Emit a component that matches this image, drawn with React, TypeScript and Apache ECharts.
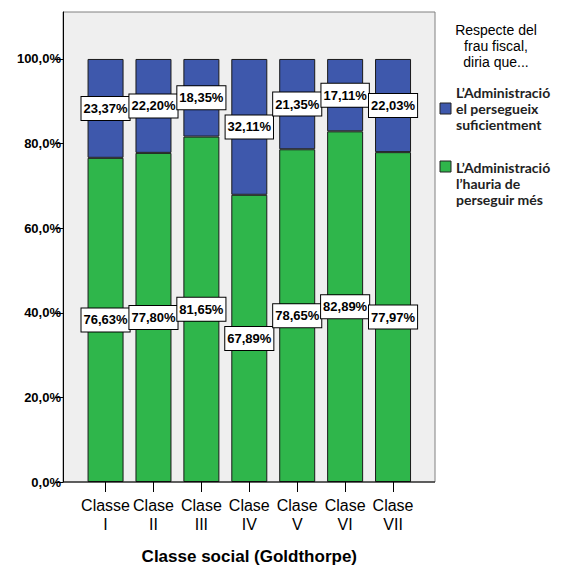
import React, { useEffect, useRef } from "react";
import * as echarts from "echarts";

const categories = ["Classe\nI", "Clase\nII", "Clase\nIII", "Clase\nIV", "Clase\nV", "Clase\nVI", "Clase\nVII"];
const seriesNames = ["L’Administració\nel persegueix\nsuficientment", "L’Administració\nl’hauria de\nperseguir més"];
const blueValues = [23.37, 22.2, 18.35, 32.11, 21.35, 17.11, 22.03];
const greenValues = [76.63, 77.8, 81.65, 67.89, 78.65, 82.89, 77.97];
const yTicks = [0, 20, 40, 60, 80, 100];
const legendTitle = "Respecte del\nfrau fiscal,\ndiria que...";
const xAxisTitle = "Classe social (Goldthorpe)";

const BLUE = "#3e58ac";
const GREEN = "#2fb64b";
const SANS = "'Liberation Sans', Arial, sans-serif";
const LEGENDFONT = "Lato, 'Open Sans', sans-serif";

const fmtPct = (v: number) => v.toFixed(2).replace(".", ",") + "%";

export default function App() {
  const ref = useRef<HTMLDivElement>(null);
  useEffect(() => {
    if (!ref.current) return;
    const chart = echarts.init(ref.current, null, { renderer: "svg" });
    const label = {
      show: true,
      position: "inside",
      formatter: (p: any) => fmtPct(p.value),
      color: "#000",
      fontFamily: SANS,
      fontWeight: "bold",
      fontSize: 13,
      lineHeight: 15,
      backgroundColor: "#fff",
      borderColor: "#000",
      borderWidth: 1,
      padding: [5, 2, 3, 2],
    };
    chart.setOption({
      animation: false,
      grid: { left: 81.6, right: 149, top: 12, bottom: 88, containLabel: false },
      graphic: [
        {
          type: "rect",
          z: -10,
          silent: true,
          shape: { x: 63, y: 12, width: 372, height: 470 },
          style: { fill: "#efefef", stroke: "#808080", lineWidth: 1 },
        },
        {
          type: "line",
          z: 10,
          silent: true,
          shape: { x1: 63, y1: 482, x2: 435, y2: 482 },
          style: { stroke: "#000", lineWidth: 1 },
        },
        {
          type: "text",
          x: 496,
          y: 22,
          style: {
            text: legendTitle,
            fill: "#000",
            font: `14px ${SANS}`,
            textAlign: "center",
            lineHeight: 16,
          },
        },
        {
          type: "rect",
          shape: { x: 440, y: 103, width: 11, height: 11 },
          style: { fill: BLUE, stroke: "#222", lineWidth: 1 },
        },
        {
          type: "text",
          x: 456,
          y: 84,
          style: {
            text: seriesNames[0],
            fill: "#222",
            font: `bold 14px ${LEGENDFONT}`,
            lineHeight: 16,
          },
        },
        {
          type: "rect",
          shape: { x: 440, y: 161, width: 11, height: 11 },
          style: { fill: GREEN, stroke: "#222", lineWidth: 1 },
        },
        {
          type: "text",
          x: 456,
          y: 159,
          style: {
            text: seriesNames[1],
            fill: "#222",
            font: `bold 14px ${LEGENDFONT}`,
            lineHeight: 16,
          },
        },
      ],
      xAxis: {
        type: "category",
        data: categories,
        name: xAxisTitle,
        nameLocation: "middle",
        nameGap: 66,
        nameTextStyle: { fontFamily: SANS, fontWeight: "bold", fontSize: 17, color: "#000" },
        axisLine: { show: false },
        axisTick: { show: true, alignWithLabel: true, length: 10, lineStyle: { color: "#000" } },
        axisLabel: {
          interval: 0,
          margin: 14,
          fontFamily: SANS,
          fontSize: 16,
          lineHeight: 19,
          color: "#000",
        },
      },
      yAxis: {
        type: "value",
        min: 0,
        max: 111.1,
        offset: 18.6,
        axisLine: { show: true, lineStyle: { color: "#000" } },
        axisTick: { show: true, length: 8, customValues: yTicks, lineStyle: { color: "#000" } },
        axisLabel: {
          customValues: yTicks,
          margin: 2,
          fontFamily: SANS,
          fontSize: 13,
          fontWeight: "bold",
          color: "#000",
          formatter: (v: number) => v.toFixed(1).replace(".", ",") + "%",
        },
        splitLine: { show: false },
      },
      series: [
        {
          name: seriesNames[1],
          type: "bar",
          stack: "total",
          data: greenValues,
          barWidth: 36,
          itemStyle: { color: GREEN, borderColor: "#1a1a1a", borderWidth: 1 },
          label,
        },
        {
          name: seriesNames[0],
          type: "bar",
          stack: "total",
          data: blueValues,
          barWidth: 36,
          itemStyle: { color: BLUE, borderColor: "#1a1a1a", borderWidth: 1 },
          label,
        },
      ],
    });
    return () => chart.dispose();
  }, []);
  return (
    <div
      ref={ref}
      style={{ position: "fixed", left: 0, top: 0, width: 566, height: 570, background: "#fff" }}
    />
  );
}
